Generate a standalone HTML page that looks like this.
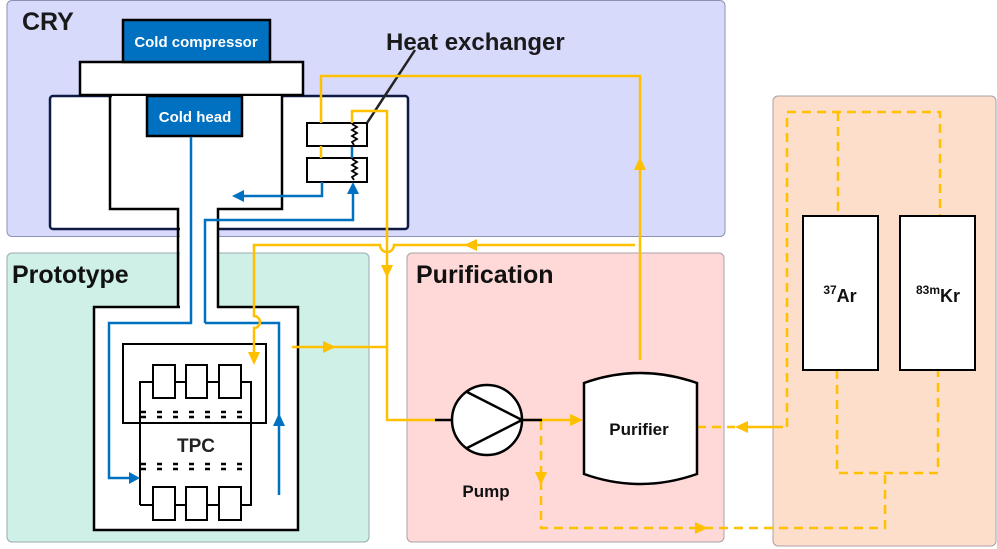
<!DOCTYPE html>
<html><head><style>body{margin:0;background:#fff}svg{display:block}text{font-family:"Liberation Sans",sans-serif;font-weight:bold}</style></head>
<body>
<svg width="997" height="549" viewBox="0 0 997 549" xmlns="http://www.w3.org/2000/svg">
<rect x="7" y="0.5" width="718" height="236" rx="5" fill="#d7dafb" stroke="#8d92b4"/>
<rect x="7" y="253" width="362" height="289" rx="5" fill="#cff0e7" stroke="#9aaab0"/>
<rect x="407" y="253" width="317" height="289" rx="5" fill="#ffd8d8" stroke="#a8a0a8"/>
<rect x="773" y="96" width="223" height="450" rx="5" fill="#fddecb" stroke="#a8a0a8"/>
<text x="22" y="30" font-size="25" fill="#1a1a1a">CRY</text>
<text x="12" y="283" font-size="25" fill="#111">Prototype</text>
<text x="416" y="283" font-size="25" fill="#111">Purification</text>
<text x="386" y="50" font-size="24" fill="#1a1a1a">Heat exchanger</text>

<rect x="50" y="96" width="358" height="133" rx="3" fill="#fff" stroke="#0f1a45" stroke-width="2.5"/>
<rect x="80" y="62" width="223" height="33" fill="#fff" stroke="#000" stroke-width="2.5"/>
<rect x="123" y="20" width="147" height="42" fill="#0070c0" stroke="#000" stroke-width="2.5"/>
<text x="196" y="47" font-size="15" fill="#fff" text-anchor="middle">Cold compressor</text>
<rect x="94" y="307" width="204" height="223" fill="#fff" stroke="#000" stroke-width="2.5"/>
<rect x="112" y="96" width="170" height="113" fill="#fff"/>
<rect x="180" y="200" width="37" height="112" fill="#fff"/>
<path d="M110,96V209H178V308M282,96V209H218V308" fill="none" stroke="#000" stroke-width="2.5"/>
<rect x="147" y="96" width="95" height="40" fill="#0070c0" stroke="#000" stroke-width="2.5"/>
<text x="195" y="122" font-size="15" fill="#fff" text-anchor="middle">Cold head</text>

<rect x="123" y="344" width="143" height="79" fill="#fff" stroke="#000" stroke-width="2"/>
<path d="M140,505V382H251V505H140" fill="none" stroke="#000" stroke-width="2"/>
<g fill="#fff" stroke="#000" stroke-width="2">
<rect x="153" y="365" width="22" height="33"/><rect x="186" y="365" width="21" height="33"/><rect x="219" y="365" width="22" height="33"/>
<rect x="153" y="487" width="22" height="33"/><rect x="186" y="487" width="21" height="33"/><rect x="219" y="487" width="22" height="33"/>
</g>
<g stroke="#000" stroke-width="2.5" stroke-dasharray="5,11">
<path d="M141,412H251M141,417H251M141,464H251M141,469H251"/>
</g>
<text x="196" y="452" font-size="19" fill="#222" text-anchor="middle">TPC</text>

<rect x="307" y="123" width="60" height="23" fill="#fff" stroke="#000" stroke-width="2"/>
<rect x="307" y="158" width="60" height="24" fill="#fff" stroke="#000" stroke-width="2"/>
<path d="M352,124l5,3l-5,3l5,3l-5,3l5,3l-5,3l2,3M352,159l5,3l-5,3l5,3l-5,3l5,3l-5,3l2,3" fill="none" stroke="#000" stroke-width="1.8"/>
<path d="M367,123L415,50" stroke="#222" stroke-width="2.5"/>

<g fill="none" stroke="#0070c0" stroke-width="2.5">
<path d="M191,137V323H109V478H132"/>
<path d="M205,323V220H353V190"/>
<path d="M205,323H279V495"/>
<path d="M322,182V196H240"/>
<path d="M352,147V158"/>
</g>
<g fill="#0070c0">
<path d="M140,478L129,472V484z"/>
<path d="M353,182L347,194H359z"/>
<path d="M232,196L244,190V202z"/>
<path d="M279,413L273,426H285z"/>
</g>

<g fill="none" stroke="#ffc000" stroke-width="2.5">
<path d="M321,123V76H640V360"/>
<path d="M321,146V158"/>
<path d="M352,123V111H387V420H435"/>
<path d="M635,245H394a7,7 0 0 1 -14,0H254V316a6,6 0 0 1 0,12V358"/>
<path d="M292,347H387"/>
<path d="M522,420H578"/>
<path d="M783,427H742"/>
</g>
<g fill="#ffc000">
<path d="M640,157L634,170H646z"/>
<path d="M464,245L477,239V251z"/>
<path d="M387,278L381,265H393z"/>
<path d="M254,365L248,352H260z"/>
<path d="M336,347L323,341V353z"/>
<path d="M583,420L570,414V426z"/>
<path d="M735,427L748,421V433z"/>
<path d="M541,485L535,472H547z"/>
<path d="M708,528L695,522V534z"/>
</g>
<g fill="none" stroke="#ffc000" stroke-width="2.5" stroke-dasharray="9,6">
<path d="M541,421V528H885V473"/>
<path d="M697,427H735"/>
<path d="M787,427V112H940V216"/>
<path d="M838,112V216"/>
<path d="M837,370V473H938V370"/>
</g>

<path d="M435,420H452M522,420H542" stroke="#000" stroke-width="2.5"/>
<circle cx="487" cy="420" r="35" fill="#fff" stroke="#000" stroke-width="2.5"/>
<path d="M467,392L522,420L467,448" fill="none" stroke="#000" stroke-width="2.5"/>
<text x="486" y="497" font-size="17" fill="#111" text-anchor="middle">Pump</text>
<path d="M584,383Q640,363 697,383V474Q640,494 584,474z" fill="#fff" stroke="#000" stroke-width="2.5"/>
<text x="639" y="435" font-size="17" fill="#111" text-anchor="middle">Purifier</text>

<rect x="803" y="216" width="75" height="154" fill="#fff" stroke="#000" stroke-width="2"/>
<rect x="900" y="216" width="75" height="154" fill="#fff" stroke="#000" stroke-width="2"/>
<text x="840" y="302" font-size="18" fill="#111" text-anchor="middle"><tspan font-size="12" dy="-8">37</tspan><tspan dy="8">Ar</tspan></text>
<text x="938" y="302" font-size="18" fill="#111" text-anchor="middle"><tspan font-size="12" dy="-8">83m</tspan><tspan dy="8">Kr</tspan></text>
</svg>
</body></html>
